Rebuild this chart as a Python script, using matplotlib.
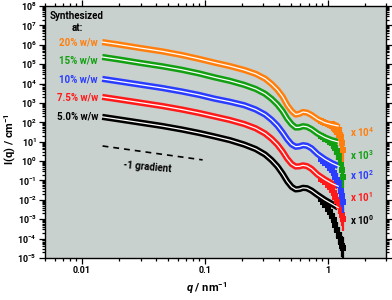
import matplotlib
matplotlib.use('Agg')
import matplotlib.pyplot as plt
import numpy as np
from matplotlib.ticker import LogLocator, FixedLocator, NullFormatter

plt.rcParams['font.family'] = ['Roboto', 'DejaVu Sans']
plt.rcParams['font.weight'] = 'bold'
plt.rcParams['mathtext.fontset'] = 'custom'
plt.rcParams['mathtext.rm'] = 'Roboto:bold'
plt.rcParams['mathtext.bf'] = 'Roboto:bold'
plt.rcParams['mathtext.it'] = 'Roboto:italic:bold'
plt.rcParams['mathtext.bfit'] = 'Roboto:italic:bold'

# fitted curves (log10 I) on a common q grid, nm^-1
q = [0.0146, 0.02, 0.03, 0.045, 0.065, 0.09, 0.12, 0.16, 0.21, 0.26, 0.31,
     0.35, 0.39, 0.43, 0.47, 0.51, 0.55, 0.59, 0.63, 0.68, 0.74, 0.83,
     0.95, 1.08, 1.22]
logI_20 = [6.14, 6.01, 5.83, 5.66, 5.47, 5.27, 5.08, 4.90, 4.70, 4.50, 4.25,
           3.98, 3.68, 3.33, 2.88, 2.58, 2.40, 2.44, 2.53, 2.50, 2.38, 2.16,
           1.98, 1.88, 1.81]
logI_15 = [5.37, 5.24, 5.06, 4.89, 4.71, 4.52, 4.32, 4.14, 3.93, 3.72, 3.47,
           3.21, 2.92, 2.58, 2.18, 1.90, 1.73, 1.74, 1.80, 1.77, 1.65, 1.42,
           1.22, 1.08, 0.99]
logI_10 = [4.24, 4.11, 3.94, 3.77, 3.59, 3.41, 3.22, 3.06, 2.88, 2.66, 2.40,
           2.13, 1.83, 1.48, 1.12, 0.86, 0.74, 0.76, 0.82, 0.79, 0.66, 0.36,
           0.10, -0.10, -0.25]
logI_75 = [3.31, 3.18, 3.01, 2.84, 2.66, 2.48, 2.30, 2.12, 1.91, 1.69, 1.42,
           1.15, 0.85, 0.50, 0.12, -0.15, -0.28, -0.27, -0.22, -0.26, -0.40, -0.70,
           -0.95, -1.15, -1.30]
logI_50 = [2.28, 2.15, 1.98, 1.81, 1.63, 1.45, 1.27, 1.08, 0.85, 0.62, 0.34,
           0.05, -0.27, -0.65, -1.05, -1.33, -1.46, -1.44, -1.38, -1.40, -1.52, -1.75,
           -2.00, -2.20, -2.40]

# noisy high-q data (log10 I) and error half-widths (decades)
q_tail = [0.88, 0.92, 0.96, 1.00, 1.04, 1.08, 1.12, 1.16, 1.20, 1.24, 1.28, 1.31, 1.34]
tail_20 = [2.05, 2.00, 1.95, 1.90, 1.85, 1.80, 1.75, 1.68, 1.58, 1.45, 1.25, 0.95, 0.55]
tail_15 = [1.30, 1.22, 1.15, 1.08, 1.00, 0.92, 0.80, 0.65, 0.45, 0.20, -0.10, -0.45, -0.80]
tail_10 = [0.10, 0.00, -0.10, -0.22, -0.35, -0.48, -0.62, -0.80, -1.00, -1.25, -1.50, -1.80, -2.10]
tail_75 = [-0.90, -1.00, -1.10, -1.22, -1.35, -1.50, -1.65, -1.85, -2.05, -2.30, -2.55, -2.80, -3.00]
tail_50 = [-1.95, -2.10, -2.25, -2.45, -2.65, -2.85, -3.05, -3.30, -3.55, -3.85, -4.15, -4.40, -4.50]
tail_err = [0.10, 0.12, 0.15, 0.18, 0.22, 0.26, 0.30, 0.35, 0.40, 0.45, 0.50, 0.55, 0.60]

labels = ['20% w/w', '15% w/w', '10% w/w', '7.5% w/w', '5.0% w/w']
factors = ['4', '3', '2', '1', '0']
colors = ['#ff7f0e', '#12a012', '#2a3cff', '#ff1a1a', '#000000']
curves = [logI_20, logI_15, logI_10, logI_75, logI_50]
tails = [tail_20, tail_15, tail_10, tail_75, tail_50]

fig = plt.figure(figsize=(3.92, 3.0), dpi=100)
ax = fig.add_axes([0.115, 0.14, 0.87, 0.84])
ax.set_facecolor('#c9d1ce')

qa = np.array(q)
qt = np.array(q_tail)
err = np.array(tail_err)
for i in range(len(curves))[::-1]:
    c = colors[i]
    I = 10 ** np.array(curves[i])
    ax.plot(qa, I, '-', color=c, lw=4.5, solid_capstyle='butt', zorder=2)
    t = np.array(tails[i])
    ax.vlines(qt, 10 ** (t - err), 10 ** (t + err), color=c, lw=1.6, zorder=3)
    ax.plot(qt, 10 ** t, 's', color=c, ms=4, mew=0, zorder=3)
    ax.plot(qa, I, '-', color='white', lw=0.9, zorder=4)

# -1 gradient guide
gq = [0.0147, 0.096]
gI = [6.0, 1.15]
ax.plot(gq, gI, 'k--', lw=1.2, dashes=(3.5, 3))
ax.text(0.034, 10 ** -0.3, '-1 gradient', fontsize=7, fontweight='bold',
        rotation=-5, ha='center', va='center')

ax.set_xscale('log')
ax.set_yscale('log')
ax.set_xlim(0.005, 3.0)
ax.set_ylim(1e-5, 1e8)

ax.yaxis.set_major_locator(FixedLocator([10.0 ** e for e in range(-5, 9)]))
ax.set_yticklabels([r'$\mathbf{10^{%d}}$' % e for e in range(-5, 9)])
ax.yaxis.set_minor_locator(LogLocator(base=10, subs=np.arange(2, 10), numticks=50))
ax.yaxis.set_minor_formatter(NullFormatter())
ax.set_xticks([0.01, 0.1, 1])
ax.set_xticklabels(['0.01', '0.1', '1'], fontweight='bold')
ax.xaxis.set_minor_locator(LogLocator(base=10, subs=np.arange(2, 10), numticks=20))
ax.xaxis.set_minor_formatter(NullFormatter())

ax.tick_params(which='both', direction='out', top=True, right=True,
               labelsize=6.5, width=0.9, pad=2)
ax.tick_params(which='major', length=4)
ax.tick_params(which='minor', length=2)
for s in ax.spines.values():
    s.set_linewidth(1.0)

fig.text(0.026, 0.535, r'I(q) / cm$^{\mathbf{-1}}$', fontsize=8, fontweight='bold',
         rotation=90, ha='center', va='center')
fig.text(0.528, 0.04, r'$\boldsymbol{q}$ / nm$^{\mathbf{-1}}$', fontsize=8,
         fontweight='bold', ha='center', va='center')

ax.text(0.092, 0.962, 'Synthesized', transform=ax.transAxes, fontsize=7,
        fontweight='bold', ha='center', va='center')
ax.text(0.095, 0.912, 'at:', transform=ax.transAxes, fontsize=7,
        fontweight='bold', ha='center', va='center')
label_y = [0.856, 0.785, 0.710, 0.638, 0.560]
for i in range(len(labels)):
    ax.text(0.155, label_y[i], labels[i], transform=ax.transAxes, fontsize=7,
            fontweight='bold', ha='right', va='center', color=colors[i])
fac_y = [0.500, 0.410, 0.330, 0.240, 0.150]
for i in range(len(factors)):
    ax.text(0.895, fac_y[i], r'x 10$^{\mathbf{%s}}$' % factors[i], transform=ax.transAxes,
            fontsize=7, fontweight='bold', ha='left', va='center', color=colors[i])

fig.savefig('out.png', dpi=100)
